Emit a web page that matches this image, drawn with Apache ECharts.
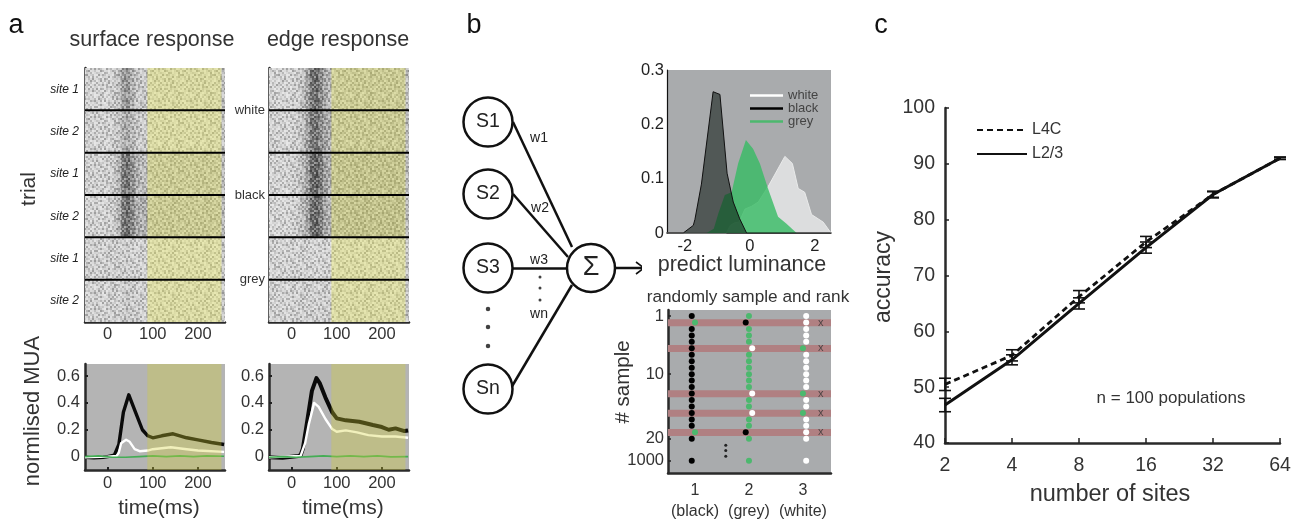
<!DOCTYPE html>
<html><head><meta charset="utf-8">
<style>html,body{margin:0;padding:0;background:#fff}#c{width:1299px;height:519px}</style>
<script src="https://cdn.jsdelivr.net/npm/echarts@6/dist/echarts.min.js"></script>
</head><body><div id="c"></div>
<script>
// ---------- panel a: raster, mean grey level per 10 ms bin (bins start at -50 ms), one list per row band
const rasterBinStart = -50;
const rasterBinWidth = 10;
const surfaceWhite1 = [208,212,214,212,214,212,208,192,155,145,180,200,204,204,208,206,204,208,206,204,208,206,208,204,206,208,204,206,208,206,192];
const surfaceWhite2 = [206,210,212,214,212,214,208,198,176,168,188,200,206,206,210,208,210,206,208,210,208,206,210,208,206,210,208,206,208,206,194];
const surfaceBlack1 = [208,212,210,214,212,210,204,178,118,105,140,175,188,190,188,186,184,188,186,184,188,182,186,188,184,186,182,186,184,186,188];
const surfaceBlack2 = [212,214,212,216,214,212,206,178,115,100,130,170,180,172,184,182,180,184,182,180,184,182,180,184,182,186,182,180,184,182,186];
const surfaceGrey1  = [206,212,208,214,210,208,212,206,210,208,212,214,212,212,214,212,210,214,212,210,214,212,214,210,212,214,212,210,214,212,200];
const surfaceGrey2  = [210,212,208,212,214,210,208,212,206,200,208,206,210,212,212,210,208,212,210,208,212,210,208,212,210,208,212,210,212,210,200];
const edgeWhite1 = [214,216,212,214,216,212,208,196,165,105,95,130,172,185,190,186,182,188,184,182,186,184,180,186,184,182,186,184,182,184,190];
const edgeWhite2 = [212,214,210,214,216,212,206,194,165,110,105,135,165,172,188,184,182,186,182,180,186,182,180,184,182,180,184,182,180,182,188];
const edgeBlack1 = [216,214,212,216,212,210,204,188,160,95,85,115,160,175,176,172,170,174,172,168,172,170,172,174,170,172,172,170,172,172,186];
const edgeBlack2 = [218,216,214,218,216,212,206,190,165,100,90,120,165,178,174,172,168,172,170,166,170,168,170,172,168,170,170,168,170,170,186];
const edgeGrey1  = [214,216,212,216,214,212,216,210,214,212,216,214,212,214,212,210,208,212,208,210,212,208,210,212,208,210,212,208,210,210,200];
const edgeGrey2  = [212,214,210,214,216,210,212,208,212,206,212,210,208,206,212,208,206,210,208,206,210,208,206,210,208,206,210,208,208,208,198];
const surfaceBands = [surfaceWhite1,surfaceWhite2,surfaceBlack1,surfaceBlack2,surfaceGrey1,surfaceGrey2];
const edgeBands = [edgeWhite1,edgeWhite2,edgeBlack1,edgeBlack2,edgeGrey1,edgeGrey2];
const siteLabels = ['site 1','site 2','site 1','site 2','site 1','site 2'];
const stimulusLabels = ['white','black','grey'];
const bandBoundaries = [1,2,3,4,5];
const sustainedWindow = [88,251];
const timeTicks = [0,100,200];
const muaTicks = [0,0.2,0.4,0.6];

// ---------- panel a: MUA traces
const surfBlackT = [-50,-30,-10,0,15,25,35,47,62,77,89,100,120,145,175,200,230,258];
const surfBlackV = [-0.005,-0.01,-0.005,0,0.01,0.09,0.33,0.46,0.33,0.2,0.155,0.14,0.155,0.17,0.14,0.125,0.105,0.09];
const surfWhiteT = [-50,0,20,25,30,41,49,60,71,89,100,140,175,200,258];
const surfWhiteV = [-0.005,0,0.005,0.03,0.1,0.125,0.11,0.055,0.04,0.045,0.055,0.07,0.055,0.045,0.035];
const surfGreyT = [-50,-20,10,40,70,100,130,160,190,220,258];
const surfGreyV = [0,0.005,-0.005,-0.005,0,0.005,0,0.005,0,0.005,0.002];
const edgeBlackT = [-50,-20,15,20,25,33,45,55,62,75,90,100,120,150,180,200,215,230,250,258];
const edgeBlackV = [-0.005,-0.008,0.005,0.01,0.06,0.23,0.49,0.585,0.55,0.44,0.33,0.285,0.27,0.26,0.235,0.22,0.2,0.21,0.19,0.195];
const edgeWhiteT = [-50,20,30,38,50,60,75,90,100,120,145,170,200,230,258];
const edgeWhiteV = [-0.005,0.005,0.1,0.24,0.4,0.37,0.28,0.205,0.185,0.195,0.18,0.16,0.15,0.15,0.14];
const edgeGreyT = [-50,-20,10,40,70,100,130,160,190,220,258];
const edgeGreyV = [-0.005,0,-0.005,0,0.005,0,0.005,0,0.005,-0.002,0];

// ---------- panel b: luminance distributions
const whiteX = [-2.55,-0.72,-0.6,-0.46,-0.33,-0.15,0.05,0.26,0.56,1.08,1.31,1.49,1.69,1.9,2.26,2.5];
const whiteY = [0,0,0.014,0.019,0.02,0.044,0.049,0.057,0.085,0.141,0.128,0.082,0.075,0.034,0.02,0];
const blackX = [-2.55,-2.05,-1.74,-1.69,-1.49,-1.13,-0.92,-0.7,-0.51,-0.31,-0.1,2.5];
const blackY = [0,0,0.014,0.025,0.09,0.26,0.255,0.11,0.057,0.026,0,0];
const greyX = [-2.55,-1.33,-1.11,-0.97,-0.77,-0.56,-0.36,-0.12,0.1,0.31,0.56,0.87,1.13,1.44,2.5];
const greyY = [0,0,0.008,0.036,0.07,0.075,0.128,0.171,0.155,0.128,0.082,0.03,0.017,0,0];
const lumTicks = [-2,0,2];

// ---------- panel b: ranked samples, one letter per rank (k black, g grey, w white)
const sampleCol1 = 'kgkkkkkkkkkkkkkkkkgkk';
const sampleCol2 = 'gkgggwggggggwggwggkgg';
const sampleCol3 = 'wwwwwgwwwwwwgwwgwwwww';
const errorRows = [2,6,13,16,19];
const sampleAxisPos = [1,10,20,23.4];
const sampleAxisText = ['1','10','20','1000'];
const rankCategories = ['1\n(black)','2\n(grey)','3\n(white)'];

// ---------- panel b: network
const inputNodes = [['S1',488,122],['S2',488,194],['S3',488,268],['Sn',488,389]];
const sumNode = ['Σ',591,268];
const wires = [[513,122,572,247],[513,194,568,257],[513,268,567,268],[511,388,572,285]];
const weightLabels = [['w1',539,138],['w2',540,208],['w3',539,260],['wn',539,314]];
const bigDots = [[488,309],[488,327],[488,346]];
const smallDots = [[540,277],[540,288],[540,300]];
const arrowShaft = [[616,268],[644,268]];
const arrowHead = [[636,262],[644,268],[636,274]];

// ---------- panel c
const sites = [2,4,8,16,32,64];
const l4cMean = [50.5,55.7,66.2,76,84.5,91];
const l4cErr = [1.1,1,1.1,1,0.5,0.2];
const l23Mean = [46.8,54.9,65,75,84.5,91];
const l23Err = [1.2,0.9,1,1,0.6,0.2];

// ---------- texture tile for the raster panels (purely a fill style)
const grainTile = [
'4728160593715260','1963704281956347','5380926417302869','7142058639180425',
'2695317480726153','8031452967314708','3574829106583924','6209173845027361',
'9413586270941582','0756241938465017','4862095713620849','2197340586179236',
'6530871429053714','1948625307892561','7205439168347082','3681970254516493',
'0492738516204957','8316059274183602','2759481063957148','5043186927340815',
'9187263540618273','3620951784025496','7458302619874031','1296047358162740'
];

const FONT = '"Liberation Sans", Arial, sans-serif';
const INK = '#333';
const zip = (a,b)=>a.map((v,i)=>[v,b[i]]);

function makeGrain(){
  const cell=2, w=grainTile[0].length*cell, h=grainTile.length*cell;
  const raw=document.createElement('canvas'); raw.width=w; raw.height=h;
  const g=raw.getContext('2d');
  grainTile.forEach((row,r)=>[...row].forEach((ch,c)=>{
    const d=+ch-4.5;
    g.fillStyle = d>0 ? 'rgba(0,0,0,'+(d*0.055)+')' : 'rgba(255,255,255,'+(-d*0.09)+')';
    g.fillRect(c*cell,r*cell,cell,cell);
  }));
  const cv=document.createElement('canvas'); cv.width=w; cv.height=h;
  const o=cv.getContext('2d'); o.filter='blur(0.6px)'; o.drawImage(raw,0,0);
  return cv;
}
const grain = makeGrain();

// rectangles in axis units: [x0,x1,y0,y1,(grey)]
function rects(grid,data,styleOf,z){
  return {type:'custom',xAxisIndex:grid,yAxisIndex:grid,silent:true,z:z,clip:true,
    data:data,
    renderItem:(p,api)=>{
      const a=api.coord([api.value(0),api.value(2)]), b=api.coord([api.value(1),api.value(3)]);
      return {type:'rect',silent:true,
        shape:{x:Math.min(a[0],b[0]),y:Math.min(a[1],b[1]),width:Math.abs(b[0]-a[0])+0.5,height:Math.abs(b[1]-a[1])+0.5},
        style:styleOf(api.value(4))};
    }};
}
const grayCss = v=>'rgb('+v+','+v+','+v+')';
function rasterSeries(grid,bands){
  const cells=[];
  bands.forEach((b,bi)=>b.forEach((v,i)=>{
    const t=rasterBinStart+i*rasterBinWidth;
    cells.push([t,t+rasterBinWidth,bi,bi+1,v]);
  }));
  return [
    rects(grid,cells,v=>({fill:grayCss(v)}),1),
    rects(grid,[[-50,260,0,6,0]],()=>({fill:{image:grain,repeat:'repeat'}}),2),
    rects(grid,[[sustainedWindow[0],sustainedWindow[1],0,6,0]],()=>({fill:'rgba(235,235,90,0.36)'}),3),
    {type:'custom',xAxisIndex:grid,yAxisIndex:grid,silent:true,z:4,data:bandBoundaries.map(v=>[v]),
      renderItem:(p,api)=>{
        const a=api.coord([-50,api.value(0)]), b=api.coord([260,api.value(0)]);
        return {type:'line',shape:{x1:a[0],y1:a[1],x2:b[0],y2:b[1]},style:{stroke:'#000',lineWidth:2}};
      }}
  ];
}
function trace(grid,name,t,v,color,width){
  return {type:'line',name:name,xAxisIndex:grid,yAxisIndex:grid,data:zip(t,v),showSymbol:false,symbol:'none',z:2,silent:true,
    lineStyle:{color:color,width:width,join:'round'},itemStyle:{color:color}};
}
function muaPanel(grid,tr){
  return [
    rects(grid,[[sustainedWindow[0],sustainedWindow[1],-0.1,0.69,0]],()=>({fill:'rgba(212,208,52,0.33)'}),3)
  ].concat(tr);
}
function density(name,x,y,fill,line,z){
  return {type:'line',name:name,xAxisIndex:4,yAxisIndex:4,data:zip(x,y),showSymbol:false,symbol:'none',z:z,silent:true,
    lineStyle:{color:line,width:line==='transparent'?0:1},areaStyle:{color:fill,opacity:1},itemStyle:{color:name==='white'?'#fff':name==='black'?'#000':'#4cb86e'}};
}
function sampleDots(letter,offset,color){
  const pts=[];
  [sampleCol1,sampleCol2,sampleCol3].forEach((col,ci)=>[...col].forEach((ch,ri)=>{
    if(ch===letter) pts.push([ci+1+offset, ri<20?ri+1:sampleAxisPos[3]]);
  }));
  return {type:'scatter',xAxisIndex:5,yAxisIndex:5,data:pts,symbolSize:6,z:3,silent:true,itemStyle:{color:color,opacity:1}};
}
function errBars(name,mean,err){
  return {type:'custom',xAxisIndex:6,yAxisIndex:6,silent:true,z:3,clip:false,
    data:sites.map((s,i)=>[s,mean[i]-err[i],mean[i]+err[i]]),
    renderItem:(p,api)=>{
      const lo=api.coord([api.value(0),api.value(1)]), hi=api.coord([api.value(0),api.value(2)]);
      const st={stroke:'#111',lineWidth:1.6}, w=6;
      return {type:'group',children:[
        {type:'line',shape:{x1:lo[0],y1:lo[1],x2:hi[0],y2:hi[1]},style:st},
        {type:'line',shape:{x1:lo[0]-w,y1:lo[1],x2:lo[0]+w,y2:lo[1]},style:st},
        {type:'line',shape:{x1:hi[0]-w,y1:hi[1],x2:hi[0]+w,y2:hi[1]},style:st}
      ]};
    }};
}

// grids
const grids=[
 {left:85,top:68,width:140,height:254},{left:269,top:68,width:140,height:254},
 {left:85,top:364,width:140,height:106},{left:269,top:364,width:140,height:106},
 {left:667,top:70,width:164,height:163},{left:668,top:310,width:163,height:163},
 {left:945,top:108,width:335,height:335},{left:440,top:90,width:200,height:340}
].map(g=>Object.assign({containLabel:false,outerBoundsMode:'none'},g));
grids[2].show=grids[3].show=true; grids[2].backgroundColor=grids[3].backgroundColor='#b4b4b4'; grids[2].borderWidth=grids[3].borderWidth=0;
grids[4].show=grids[5].show=true; grids[4].backgroundColor=grids[5].backgroundColor='#a9abad'; grids[4].borderWidth=grids[5].borderWidth=0;

const axLine={show:true,onZero:false,lineStyle:{color:'#2a2a2a',width:2.5}};
const tick={show:true,inside:true,length:3,lineStyle:{color:'#222',width:2}};
const lab=(size,extra)=>Object.assign({fontFamily:FONT,fontSize:size,color:INK},extra||{});
function timeAxis(i,m){
  return {type:'value',gridIndex:i,min:-50,max:260,axisLine:axLine,splitLine:{show:false},
    axisTick:Object.assign({},tick,{customValues:timeTicks}),
    axisLabel:lab(16.5,{customValues:timeTicks,margin:m,showMinLabel:true,showMaxLabel:true})};
}
const xAxes=[timeAxis(0,4),timeAxis(1,4),timeAxis(2,5),timeAxis(3,5),
 {type:'value',gridIndex:4,min:-2.55,max:2.5,axisLine:{show:true,onZero:false,lineStyle:{color:'#111',width:1.5}},splitLine:{show:false},
  axisTick:{show:false,customValues:lumTicks},axisLabel:lab(16.5,{customValues:lumTicks,margin:5,color:'#222'})},
 {type:'value',gridIndex:5,min:0.5,max:3.52,axisLine:axLine,splitLine:{show:false},
  axisTick:{show:false,customValues:[1,2,3]},
  axisLabel:lab(16,{customValues:[1,2,3],margin:7,lineHeight:21,formatter:v=>rankCategories[v-1]})},
 {type:'log',logBase:2,gridIndex:6,min:2,max:64,axisLine:axLine,splitLine:{show:false},minorTick:{show:false},
  axisTick:{show:true,inside:true,length:5,lineStyle:{color:'#222',width:1.5}},axisLabel:lab(19.5,{margin:13})},
 {type:'value',gridIndex:7,min:440,max:640,show:false}
];
const yAxes=[
 {type:'value',gridIndex:0,min:0,max:6,inverse:true,axisLine:axLine,splitLine:{show:false},
  axisTick:Object.assign({},tick,{customValues:[0.5,1.5,2.5,3.5,4.5,5.5]}),
  axisLabel:{customValues:[0.5,1.5,2.5,3.5,4.5,5.5],fontFamily:FONT,fontSize:12,fontStyle:'italic',color:'#222',margin:6,formatter:v=>siteLabels[Math.floor(v)]}},
 {type:'value',gridIndex:1,min:0,max:6,inverse:true,axisLine:axLine,splitLine:{show:false},
  axisTick:{show:false,customValues:[1,3,5]},
  axisLabel:{customValues:[1,3,5],fontFamily:FONT,fontSize:13,color:'#333',margin:4,formatter:v=>stimulusLabels[(v-1)/2]}},
 {type:'value',gridIndex:2,min:-0.1,max:0.69,axisLine:axLine,splitLine:{show:false},
  axisTick:Object.assign({},tick,{customValues:muaTicks}),axisLabel:lab(16.5,{customValues:muaTicks,margin:5,formatter:v=>v===0?'0':v.toFixed(1)})},
 {type:'value',gridIndex:3,min:-0.1,max:0.69,axisLine:axLine,splitLine:{show:false},
  axisTick:Object.assign({},tick,{customValues:muaTicks}),axisLabel:lab(16.5,{customValues:muaTicks,margin:5,formatter:v=>v===0?'0':v.toFixed(1)})},
 {type:'value',gridIndex:4,min:0,max:0.3,interval:0.1,axisLine:{show:true,onZero:false,lineStyle:{color:'#111',width:1.2}},splitLine:{show:false},
  axisTick:{show:false},axisLabel:lab(16.5,{margin:3,color:'#222',formatter:v=>v===0?'0':v.toFixed(1)})},
 {type:'value',gridIndex:5,min:0.07,max:25.3,inverse:true,axisLine:axLine,splitLine:{show:false},
  axisTick:{show:true,inside:true,length:3,customValues:sampleAxisPos,lineStyle:{color:'#222',width:1.5}},
  axisLabel:lab(16.5,{customValues:sampleAxisPos,margin:4,formatter:v=>sampleAxisText[sampleAxisPos.indexOf(v)]})},
 {type:'value',gridIndex:6,min:40,max:100,interval:10,axisLine:axLine,splitLine:{show:false},
  axisTick:{show:true,inside:true,length:4,lineStyle:{color:'#222',width:1.5}},axisLabel:lab(19.5,{margin:10})},
 {type:'value',gridIndex:7,min:90,max:430,inverse:true,show:false}
];

// network graph
const gNodes=[], gLinks=[];
inputNodes.concat([sumNode]).forEach(n=>gNodes.push({name:n[0],value:[n[1],n[2]],symbol:'circle',symbolSize:n[0]==='Σ'?48:49,
  itemStyle:{color:'#fff',borderColor:'#111',borderWidth:2.5},
  label:{show:true,position:'inside',formatter:n[0],color:'#222',fontFamily:FONT,fontSize:n[0]==='Σ'?27:19.5}}));
wires.forEach((w,i)=>{
  gNodes.push({name:'a'+i,value:[w[0],w[1]],symbolSize:0,label:{show:false}});
  gNodes.push({name:'b'+i,value:[w[2],w[3]],symbolSize:0,label:{show:false}});
  gLinks.push({source:'a'+i,target:'b'+i});
});
weightLabels.forEach(w=>gNodes.push({name:w[0],value:[w[1],w[2]],symbolSize:0,
  label:{show:true,position:'inside',formatter:w[0],color:'#222',fontFamily:FONT,fontSize:14}}));
const arrowStyle={color:'#111',width:2.5};
const series=[].concat(
  rasterSeries(0,surfaceBands),
  rasterSeries(1,edgeBands),
  muaPanel(2,[trace(2,'m1k',surfBlackT,surfBlackV,'#0a0a0a',3.4),trace(2,'m1w',surfWhiteT,surfWhiteV,'#fff',2.4),trace(2,'m1g',surfGreyT,surfGreyV,'#44ad55',1.6)]),
  muaPanel(3,[trace(3,'m2k',edgeBlackT,edgeBlackV,'#0a0a0a',4),trace(3,'m2w',edgeWhiteT,edgeWhiteV,'#fff',2.4),trace(3,'m2g',edgeGreyT,edgeGreyV,'#44ad55',1.6)]),
  [density('white',whiteX,whiteY,'rgba(255,255,255,0.6)','#e9eaea',2),
   density('grey',greyX,greyY,'rgba(54,187,99,0.8)','transparent',3),
   density('black',blackX,blackY,'rgba(10,20,15,0.55)','#111',4)],
  [rects(5,errorRows.map(r=>[0.5,3.52,r-0.5,r+0.5,0]),()=>({fill:'#b08082'}),1),
   sampleDots('k',-0.06,'#000'),sampleDots('g',0,'#4cb86e'),sampleDots('w',0.06,'#fff'),
   {type:'scatter',xAxisIndex:5,yAxisIndex:5,data:[[1.57,21],[1.57,21.8],[1.57,22.7]],symbolSize:3,z:3,silent:true,itemStyle:{color:'#000'}},
   {type:'scatter',xAxisIndex:5,yAxisIndex:5,data:errorRows.map(r=>[3.33,r]),symbolSize:0,z:3,silent:true,
    label:{show:true,position:'inside',formatter:'x',color:'#333',fontFamily:FONT,fontSize:11}}],
  [{type:'line',name:'L4C',xAxisIndex:6,yAxisIndex:6,data:zip(sites,l4cMean),showSymbol:false,symbol:'none',z:2,silent:true,
    lineStyle:{color:'#111',width:2.8,type:[6,4]},itemStyle:{color:'#111'}},
   {type:'line',name:'L2/3',xAxisIndex:6,yAxisIndex:6,data:zip(sites,l23Mean),showSymbol:false,symbol:'none',z:2,silent:true,
    lineStyle:{color:'#111',width:3},itemStyle:{color:'#111'}},
   errBars('L4C err',l4cMean,l4cErr),errBars('L2/3 err',l23Mean,l23Err)],
  [{type:'graph',coordinateSystem:'cartesian2d',xAxisIndex:7,yAxisIndex:7,silent:true,z:3,data:gNodes,links:gLinks,
    edgeSymbol:['none','none'],lineStyle:{color:'#111',width:2.5,opacity:1,curveness:0},emphasis:{disabled:true}},
   {type:'line',xAxisIndex:7,yAxisIndex:7,data:arrowShaft,showSymbol:false,symbol:'none',lineStyle:arrowStyle,silent:true,z:2},
   {type:'line',xAxisIndex:7,yAxisIndex:7,data:arrowHead,showSymbol:false,symbol:'none',lineStyle:{color:'#111',width:1.6},silent:true,z:2},
   {type:'scatter',xAxisIndex:7,yAxisIndex:7,data:bigDots,symbolSize:4.5,itemStyle:{color:'#111'},silent:true},
   {type:'scatter',xAxisIndex:7,yAxisIndex:7,data:smallDots,symbolSize:3,itemStyle:{color:'#111'},silent:true}]
);

// free-standing text: text, x, y, size, rotated
const freeText=[
 ['a',16,26,27,0],['b',474,26,27,0],['c',881,26,27,0],
 ['surface response',152,40,21.5,0],['edge response',338,40,21.5,0],
 ['trial',29,189,21,1],['normlised MUA',33,411,22,1],
 ['time(ms)',159,508,21,0],['time(ms)',343,508,21,0],
 ['predict luminance',742,265,21.5,0],['randomly sample and rank',748,297,17.2,0],
 ['# sample',623,382,20.5,1],['accuracy',884,277,23,1],['number of sites',1110,495,23.5,0],
 ['n = 100 populations',1171,398,17,0]
];
const option={
  animation:false,backgroundColor:'#fff',tooltip:{show:false},
  grid:grids,xAxis:xAxes,yAxis:yAxes,series:series,
  legend:[
   {left:745,top:84,orient:'vertical',itemWidth:33,itemHeight:2.5,itemGap:0,selectedMode:false,
    textStyle:{fontFamily:FONT,fontSize:13,color:'#444'},
    data:[{name:'white',icon:'rect'},{name:'black',icon:'rect'},{name:'grey',icon:'rect'}]},
   {left:971,top:117,orient:'vertical',itemWidth:50,itemHeight:14,itemGap:8,selectedMode:false,
    itemStyle:{color:'rgba(0,0,0,0)',borderWidth:0,opacity:0},
    textStyle:{fontFamily:FONT,fontSize:16,color:INK},data:['L4C','L2/3']}
  ],
  graphic:freeText.map(t=>({type:'text',x:t[1],y:t[2],rotation:t[4]?Math.PI/2:0,silent:true,z:10,
    style:{text:t[0],fill:t[0].length===1?'#111':INK,font:t[3]+'px '+FONT,textAlign:'center',textVerticalAlign:'middle',align:'center',verticalAlign:'middle'}}))
};
echarts.init(document.getElementById('c'),null,{renderer:'canvas'}).setOption(option);
</script></body></html>
